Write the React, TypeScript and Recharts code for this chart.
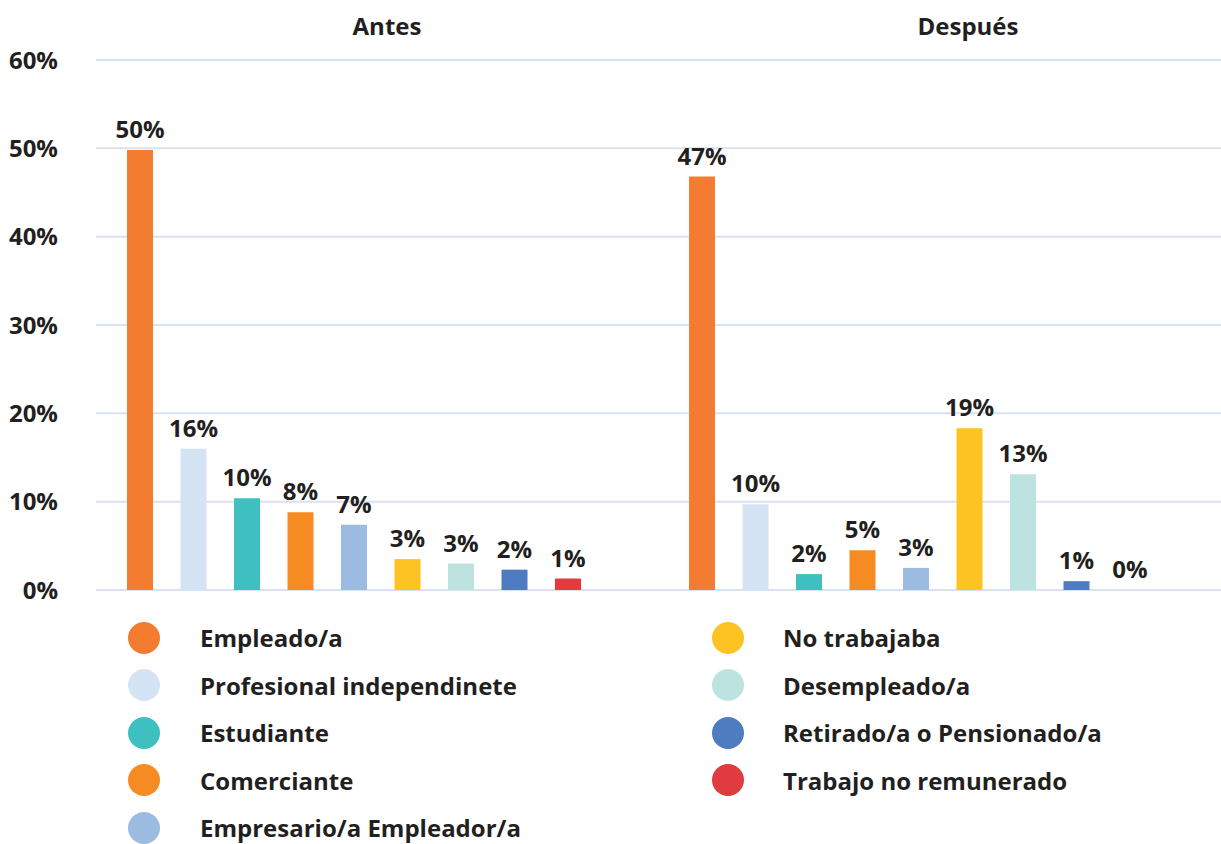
import React from 'react';
import { BarChart, Bar, XAxis, YAxis, CartesianGrid, LabelList, Legend } from 'recharts';

const categories = ['Antes', 'Después'];
const seriesNames = [
  'Empleado/a',
  'Profesional independinete',
  'Estudiante',
  'Comerciante',
  'Empresario/a Empleador/a',
  'No trabajaba',
  'Desempleado/a',
  'Retirado/a o Pensionado/a',
  'Trabajo no remunerado',
];
const seriesColors = ['#F47C30', '#D5E4F4', '#3FC0C0', '#F68B22', '#9BBBE0', '#FDC323', '#BDE3E1', '#4F7BC0', '#E03B3E'];
const antesValues = [49.8, 16.0, 10.4, 8.8, 7.4, 3.5, 3.0, 2.3, 1.3];
const despuesValues = [46.8, 9.7, 1.8, 4.5, 2.5, 18.3, 13.1, 1.0, 0];
const antesLabels = ['50%', '16%', '10%', '8%', '7%', '3%', '3%', '2%', '1%'];
const despuesLabels = ['47%', '10%', '2%', '5%', '3%', '19%', '13%', '1%', '0%'];
const yTicks = [0, 10, 20, 30, 40, 50, 60];

const FONT = '"Open Sans", sans-serif';
const TEXT = '#231F20';
const FS = 24;

const valueSets = [antesValues, despuesValues];
const labelSets = [antesLabels, despuesLabels];
const data = categories.map((c, ci) => {
  const row: Record<string, any> = { category: c };
  seriesNames.forEach((_, si) => {
    row[`s${si}`] = valueSets[ci][si];
    row[`l${si}`] = labelSets[ci][si];
  });
  return row;
});

const titleDx = [33, 52];

const TopTick = (props: any) => {
  const { x, y, payload, index } = props;
  return (
    <text x={x + titleDx[index]} y={y} textAnchor="middle" fontFamily={FONT} fontWeight={700} fontSize={FS} fill={TEXT}>
      {payload.value}
    </text>
  );
};

const LegendContent = () => {
  const left = seriesNames.slice(0, 5).map((n, i) => ({ n, c: seriesColors[i] }));
  const right = seriesNames.slice(5).map((n, i) => ({ n, c: seriesColors[i + 5] }));
  const col = (items: { n: string; c: string }[], leftPx: number, gap: number) => (
    <div style={{ position: 'absolute', left: leftPx, top: 0 }}>
      {items.map((it) => (
        <div key={it.n} style={{ display: 'flex', alignItems: 'center', height: 47.5 }}>
          <span style={{ width: 32, height: 32, borderRadius: '50%', background: it.c, display: 'inline-block', marginRight: gap, flex: 'none' }} />
          <span style={{ fontFamily: FONT, fontWeight: 700, fontSize: FS, color: TEXT, whiteSpace: 'nowrap' }}>{it.n}</span>
        </div>
      ))}
    </div>
  );
  return (
    <div style={{ position: 'relative', width: 1221, height: 240 }}>
      {col(left, 128, 40)}
      {col(right, 712, 39)}
    </div>
  );
};

export default function App() {
  return (
    <div style={{ position: 'absolute', left: 0, top: 0, width: 1221, height: 844, background: '#fff' }}>
      <BarChart
        width={1221}
        height={844}
        data={data}
        margin={{ top: 0, right: 0, left: 0, bottom: 254 }}
        barGap={27.5}
        barSize={26}
      >
        <CartesianGrid vertical={false} stroke="#D9E2F2" strokeWidth={2} />
        <XAxis
          dataKey="category"
          orientation="top"
          height={60}
          axisLine={false}
          tickLine={false}
          tickSize={0}
          tickMargin={25}
          padding={{ left: -23, right: 24 }}
          tick={<TopTick />}
          interval={0}
        />
        <YAxis
          width={96}
          domain={[0, 60]}
          ticks={yTicks}
          axisLine={false}
          tickLine={false}
          tickMargin={32}
          tickFormatter={(v: number) => `${v}%`}
          tick={{ fontFamily: FONT, fontWeight: 700, fontSize: FS, fill: TEXT }}
        />
        {seriesNames.map((name, si) => (
          <Bar
            key={name}
            name={name}
            dataKey={`s${si}`}
            fill={seriesColors[si]}
            minPointSize={0.01}
            isAnimationActive={false}
          >
            <LabelList
              dataKey={`l${si}`}
              position="top"
              offset={12}
              style={{ fontFamily: FONT, fontWeight: 700, fontSize: FS, fill: TEXT }}
            />
          </Bar>
        ))}
        <Legend
          layout="horizontal"
          verticalAlign="middle"
          align="center"
          wrapperStyle={{ top: 614, left: 0, width: 1221, height: 240 }}
          content={<LegendContent />}
        />
      </BarChart>
    </div>
  );
}
